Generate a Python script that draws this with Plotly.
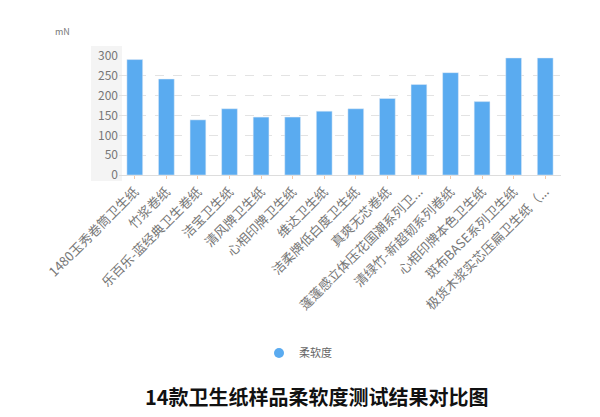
import plotly.graph_objects as go

categories = [
    "1480玉秀卷筒卫生纸", "竹浆卷纸", "乐百乐-蓝经典卫生卷纸", "洁宝卫生纸",
    "清风牌卫生纸", "心相印牌卫生纸", "维达卫生纸", "洁柔牌低白度卫生纸",
    "真爽无芯卷纸", "蓬蓬感立体压花国潮系列卫...", "清绿竹-新超韧系列卷纸",
    "心相印牌本色卫生纸", "斑布BASE系列卫生纸", "极货木浆实芯压扁卫生纸（...",
]
softness = [291, 242, 139, 167, 146, 146, 161, 167, 193, 228, 258, 185, 295, 295]
y_ticks = [0, 50, 100, 150, 200, 250, 300]
series_name = "柔软度"
bar_color = "#5aabf0"

W, H = 600, 417
L, R, T, B = 111, 47, 48, 250
ph = H - T - B

def py(px):
    return (H - B - px) / ph

def px_x(px):
    return (px - L) / (W - L - R)

fig = go.Figure()
fig.add_trace(go.Bar(
    x=categories, y=softness, name=series_name, showlegend=False,
    marker=dict(color=bar_color), width=0.5,
))
fig.add_trace(go.Scatter(
    x=[None], y=[None], mode="markers", name=series_name,
    marker=dict(symbol="circle", size=10, color=bar_color),
))

fig.update_layout(
    width=W, height=H,
    margin=dict(l=L, r=R, t=T, b=B),
    paper_bgcolor="white", plot_bgcolor="white",
    font=dict(family="Noto Sans CJK SC", color="#666"),
    showlegend=True,
    legend=dict(orientation="h", x=px_x(290), xanchor="center", y=py(345), yanchor="middle",
                font=dict(size=11, color="#666"), itemwidth=30),
    xaxis=dict(
        tickangle=-45, tickfont=dict(size=13, color="#777"),
        showline=True, linecolor="#ddd", linewidth=1,
        ticks="outside", ticklen=3, tickcolor="#f5c9a8",
        showgrid=False, fixedrange=True,
    ),
    yaxis=dict(
        range=[0, 300], tickvals=y_ticks, tickfont=dict(size=12, color="#777"),
        showgrid=True, gridcolor="#e3e3e3", griddash="dash", gridwidth=1,
        zeroline=False, ticks="", fixedrange=True,
    ),
    shapes=[
        dict(type="rect", xref="paper", yref="paper",
             x0=px_x(83), x1=px_x(114), y0=py(173), y1=py(38),
             fillcolor="#f4f4f4", line=dict(width=0), layer="below"),
        dict(type="rect", xref="paper", yref="paper",
             x0=px_x(591), x1=px_x(600), y0=py(417), y1=py(0),
             fillcolor="#f0f0f0", line=dict(width=0), layer="below"),
    ],
    annotations=[
        dict(text="mN", xref="paper", yref="paper", x=px_x(45), y=py(15),
             showarrow=False, font=dict(size=9, color="#777")),
        dict(text="<b>14款卫生纸样品柔软度测试结果对比图</b>", xref="paper", yref="paper",
             x=px_x(309), y=py(405), showarrow=False,
             font=dict(size=20, color="#111", family="Noto Sans CJK SC")),
    ],
)

fig.write_html("out.html")
